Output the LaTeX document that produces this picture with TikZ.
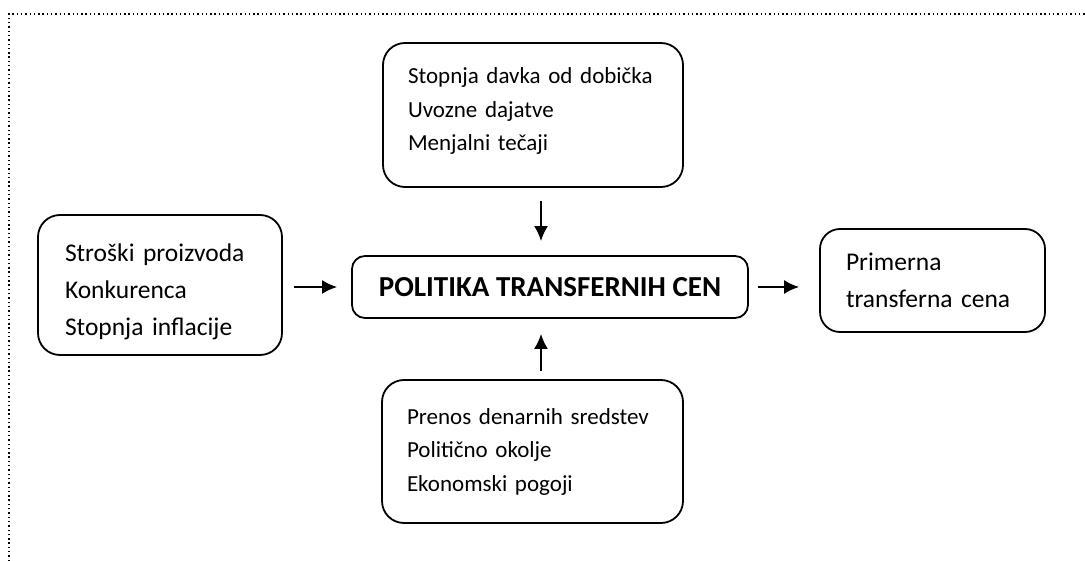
\documentclass[tikz,border=0pt]{standalone}
\usepackage{fontspec}
\setmainfont{Carlito}
\usetikzlibrary{arrows.meta}

\begin{document}
\begin{tikzpicture}[x=1pt,y=-1pt,
  factorbox/.style={draw, line width=1.8pt, rounded corners=22pt, align=left,
    inner sep=0pt},
  flowarrow/.style={line width=2pt, -{Latex[length=15pt,width=14pt]}}]
\useasboundingbox (0,0) rectangle (1085,561);
\draw[line width=1.4pt, dash pattern=on 1.4pt off 2.9pt] (9,561) -- (9,14) -- (1085,14);

\node[factorbox, minimum width=300pt, minimum height=144pt, text width=250pt,
  font=\fontsize{23}{33.5}\selectfont] (davki) at (533,115)
  {Stopnja davka od dobička\\Uvozne dajatve\\Menjalni tečaji\rule[-11pt]{0pt}{0pt}};
\node[factorbox, minimum width=244pt, minimum height=140pt, text width=190pt,
  font=\fontsize{25.5}{36.7}\selectfont] (stroski) at (160,285)
  {\rule{0pt}{31pt}Stroški proizvoda\\Konkurenca\\Stopnja inflacije};
\node[factorbox, rounded corners=13pt, minimum width=396pt, minimum height=62pt,
  font=\fontsize{29}{32}\selectfont\bfseries] (politika) at (550,287)
  {POLITIKA TRANSFERNIH CEN};
\node[factorbox, rounded corners=20pt, minimum width=225pt, minimum height=103pt,
  text width=173pt, font=\fontsize{25.5}{37}\selectfont] (cena) at (932.5,280.5)
  {Primerna\\transferna cena};
\node[factorbox, minimum width=301pt, minimum height=143pt, text width=251pt,
  font=\fontsize{23}{33.5}\selectfont] (okolje) at (532.5,451.5)
  {Prenos denarnih sredstev\\Politično okolje\\Ekonomski pogoji};

\draw[flowarrow, shorten <=11pt, shorten >=14pt] (stroski.east |- politika.west) -- (politika.west);
\draw[flowarrow, shorten <=9pt, shorten >=20pt] (politika.east) -- (politika.east -| cena.west);
\draw[flowarrow, shorten <=13pt, shorten >=14pt] ([xshift=8pt]davki.south) -- ([xshift=8pt]davki.south |- politika.north);
\draw[flowarrow, shorten <=8pt, shorten >=15pt] ([xshift=8.5pt]okolje.north) -- ([xshift=8.5pt]okolje.north |- politika.south);
\end{tikzpicture}
\end{document}
